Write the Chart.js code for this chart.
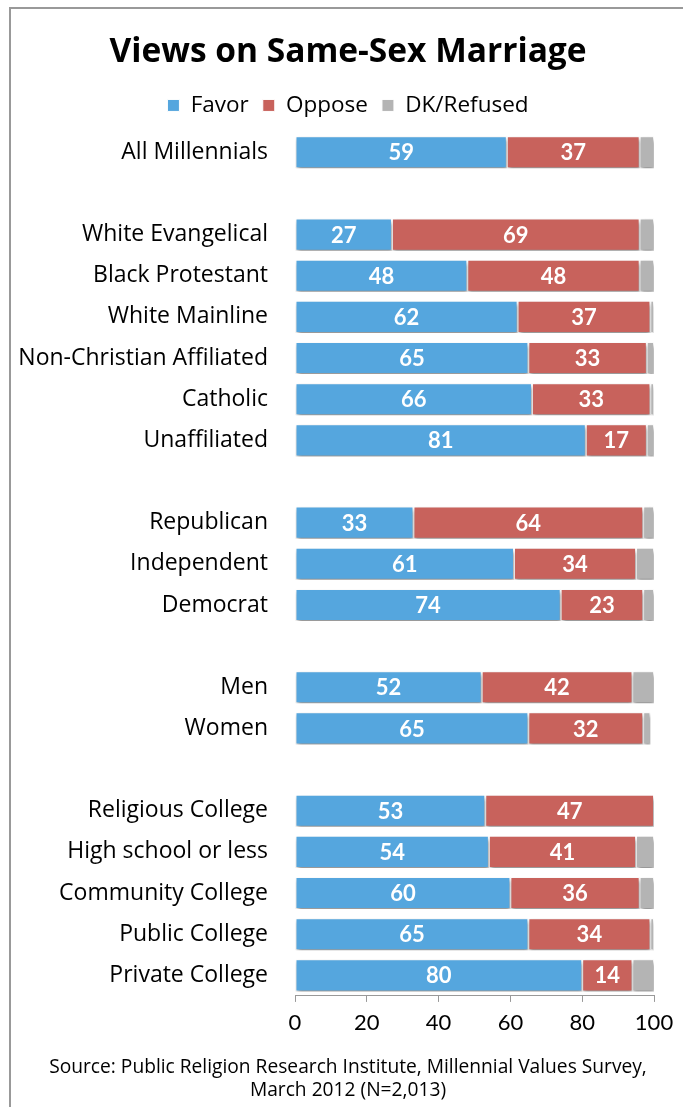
<!DOCTYPE html>
<html>
<head>
<meta charset="utf-8">
<script src="https://cdn.jsdelivr.net/npm/chart.js@4.4.1/dist/chart.umd.min.js"></script>
<style>
  html, body { margin: 0; padding: 0; background: #fff; }
  #wrap { position: relative; width: 683px; height: 1107px; overflow: hidden; }
  #frame { position: absolute; left: 9px; top: 7px; width: 700px; height: 1200px;
           border-left: 2px solid #999; border-top: 2px solid #999; }
  canvas { position: absolute; left: 0; top: 0; }
</style>
</head>
<body>
<div id="wrap">
  <div id="frame"></div>
  <canvas id="c" width="683" height="1107"></canvas>
</div>
<script>
const categories = [
  'All Millennials', '',
  'White Evangelical', 'Black Protestant', 'White Mainline', 'Non-Christian Affiliated', 'Catholic', 'Unaffiliated', '',
  'Republican', 'Independent', 'Democrat', '',
  'Men', 'Women', '',
  'Religious College', 'High school or less', 'Community College', 'Public College', 'Private College'
];
const favor  = [59, null, 27, 48, 62, 65, 66, 81, null, 33, 61, 74, null, 52, 65, null, 53, 54, 60, 65, 80];
const oppose = [37, null, 69, 48, 37, 33, 33, 17, null, 64, 34, 23, null, 42, 32, null, 47, 41, 36, 34, 14];
const dk     = [4,  null, 4,  4,  1,  2,  1,  2,  null, 3,  5,  3,  null, 6,  2,  null, 0,  5,  4,  1,  6];
const seriesNames = ['Favor', 'Oppose', 'DK/Refused'];
const xTicks = [0, 20, 40, 60, 80, 100];
const titleText = 'Views on Same-Sex Marriage';
const sourceText = ['Source: Public Religion Research Institute, Millennial Values Survey,', 'March 2012 (N=2,013)'];

const FONT = '"Open Sans", Lato, sans-serif';
const NUMFONT = 'Lato, "Open Sans", sans-serif';
const colors = ['#55A6DE', '#C8625C', '#B4B4B4'];

const barDecor = {
  id: 'barDecor',
  afterLayout(chart) {
    // let the category labels extend to the left edge without being clipped
    chart.scales.y.left = 0;
  },
  beforeDatasetsDraw(chart) {
    const ctx = chart.ctx;
    ctx.save();
    ctx.shadowColor = 'rgba(0,0,0,0.45)';
    ctx.shadowBlur = 4;
    ctx.shadowOffsetX = 1;
    ctx.shadowOffsetY = 3;
  },
  afterDatasetsDraw(chart) {
    const ctx = chart.ctx;
    ctx.restore();
    ctx.save();
    ctx.fillStyle = '#fff';
    ctx.font = 'bold 22px ' + NUMFONT;
    ctx.textAlign = 'center';
    ctx.textBaseline = 'middle';
    [0, 1].forEach(di => {
      const meta = chart.getDatasetMeta(di);
      const data = chart.data.datasets[di].data;
      meta.data.forEach((el, i) => {
        const v = data[i];
        if (v === null || v === undefined) return;
        const x = (el.x + el.base) / 2;
        ctx.fillText(String(v), x, el.y + 1);
      });
    });
    ctx.restore();
  }
};

new Chart(document.getElementById('c'), {
  type: 'bar',
  data: {
    labels: categories,
    datasets: [favor, oppose, dk].map((d, i) => ({
      label: seriesNames[i],
      data: d,
      backgroundColor: colors[i],
      borderColor: '#ffffff',
      borderWidth: 1,
      borderSkipped: false,
      barPercentage: 0.78,
      categoryPercentage: 1.0
    }))
  },
  options: {
    indexAxis: 'y',
    responsive: false,
    animation: false,
    devicePixelRatio: 1,
    layout: { padding: { left: 42, right: 29, top: 0, bottom: 5 } },
    scales: {
      x: {
        stacked: true,
        min: 0, max: 100,
        afterBuildTicks(scale) { scale.ticks = xTicks.map(v => ({ value: v })); },
        afterFit(scale) { scale.height = 38; },
        grid: { display: true, drawOnChartArea: false, drawTicks: true, tickLength: 6, color: '#999', lineWidth: 1 },
        border: { display: true, color: '#999', width: 1 },
        ticks: { font: { family: NUMFONT, size: 22 }, color: '#000', padding: 8, maxRotation: 0 }
      },
      xTop: {
        type: 'linear',
        position: 'top',
        display: true,
        afterFit(scale) { scale.height = 5; },
        grid: { display: false, drawTicks: false },
        border: { display: false },
        ticks: { display: false }
      },
      y: {
        stacked: true,
        afterFit(scale) { scale.width = 253; },
        grid: { display: false, drawTicks: false },
        border: { display: false },
        ticks: { font: { family: FONT, size: 23 }, color: '#000', padding: 27, autoSkip: false }
      }
    },
    plugins: {
      title: {
        display: true,
        text: titleText,
        font: { family: FONT, size: 33.5, weight: 'bold' },
        color: '#000',
        padding: { top: 32, bottom: 8 }
      },
      subtitle: {
        display: true,
        position: 'bottom',
        text: sourceText,
        font: { family: FONT, size: 19.2, lineHeight: 1.2 },
        color: '#000',
        padding: { top: 22, bottom: 0 }
      },
      legend: {
        display: true,
        position: 'top',
        labels: {
          font: { family: FONT, size: 22.5 },
          color: '#000',
          boxWidth: 12,
          boxHeight: 12,
          padding: 14,
          useBorderRadius: false
        }
      },
      tooltip: { enabled: false }
    }
  },
  plugins: [barDecor]
});
</script>
</body>
</html>
